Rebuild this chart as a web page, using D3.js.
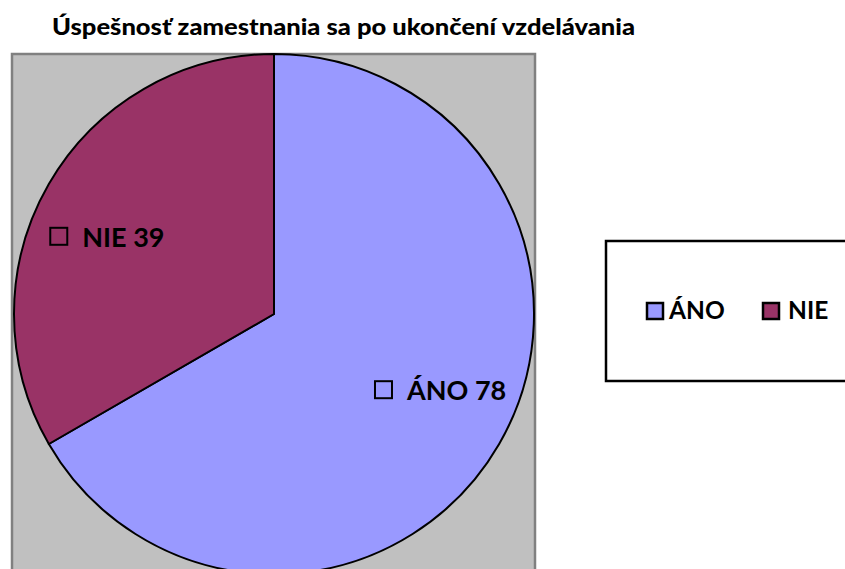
<!DOCTYPE html>
<html><head><meta charset="utf-8">
<script src="https://cdn.jsdelivr.net/npm/d3@7"></script>
<style>body{margin:0;background:#fff}svg{display:block}</style>
</head><body>
<svg id="c" width="845" height="569"></svg>
<script>
const titleText = "Úspešnosť zamestnania sa po ukončení vzdelávania";
const categories = ["ÁNO", "NIE"];
const values = [78, 39];
const colors = ["#9999ff", "#993366"];

const svg = d3.select("#c");
const font = "Lato, 'Open Sans', sans-serif";

// title
svg.append("text").attr("x", 52).attr("y", 35)
  .attr("font-family", font).attr("font-weight", "900").attr("font-size", 22.5)
  .attr("textLength", 583).attr("lengthAdjust", "spacingAndGlyphs")
  .attr("fill", "#000").text(titleText);

// plot area
const plot = {x: 12, y: 54, w: 523, h: 530};
svg.append("rect").attr("x", plot.x).attr("y", plot.y).attr("width", plot.w).attr("height", plot.h)
  .attr("fill", "#c0c0c0").attr("stroke", "#808080").attr("stroke-width", 2.5);

const cx = 274, cy = 314, r = 260;
const g = svg.append("g").attr("transform", `translate(${cx},${cy})`);
const data = categories.map((c, i) => ({cat: c, value: values[i], color: colors[i]}));
const pie = d3.pie().value(d => d.value).sort(null);
const arc = d3.arc().innerRadius(0).outerRadius(r);
const arcs = pie(data);
g.selectAll("path").data(arcs).join("path")
  .attr("d", arc).attr("fill", d => d.data.color)
  .attr("stroke", "#000").attr("stroke-width", 2).attr("stroke-linejoin", "round");

// data labels
const lblFs = 27;
arcs.forEach(a => {
  const m = (a.startAngle + a.endAngle) / 2;
  const lx = Math.sin(m) * r * 0.74, ly = -Math.cos(m) * r * 0.59;
  const lg = g.append("g");
  const t = lg.append("text").attr("font-family", font).attr("font-weight", "bold")
    .attr("font-size", lblFs).attr("fill", "#000")
    .text(a.data.cat + " " + a.data.value);
  const tw = t.node().getComputedTextLength();
  const sq = 17, gap = 15, total = sq + gap + tw;
  const x0 = lx - total / 2;
  lg.append("rect").attr("x", x0).attr("y", ly - sq / 2 - 1).attr("width", sq).attr("height", sq)
    .attr("fill", "none").attr("stroke", "#000").attr("stroke-width", 2);
  t.attr("x", x0 + sq + gap).attr("y", ly + 9.5);
});

// legend
svg.append("rect").attr("x", 606).attr("y", 241).attr("width", 260).attr("height", 140)
  .attr("fill", "#fff").attr("stroke", "#000").attr("stroke-width", 2.5);
const legX = [647, 763];
data.forEach((d, i) => {
  svg.append("rect").attr("x", legX[i]).attr("y", 303).attr("width", 16).attr("height", 16)
    .attr("fill", d.color).attr("stroke", "#000").attr("stroke-width", 2.5);
  svg.append("text").attr("x", legX[i] + 22 + i * 3).attr("y", 319)
    .attr("font-family", font).attr("font-weight", "bold").attr("font-size", 24.5)
    .attr("fill", "#000").text(d.cat);
});
</script>
</body></html>
